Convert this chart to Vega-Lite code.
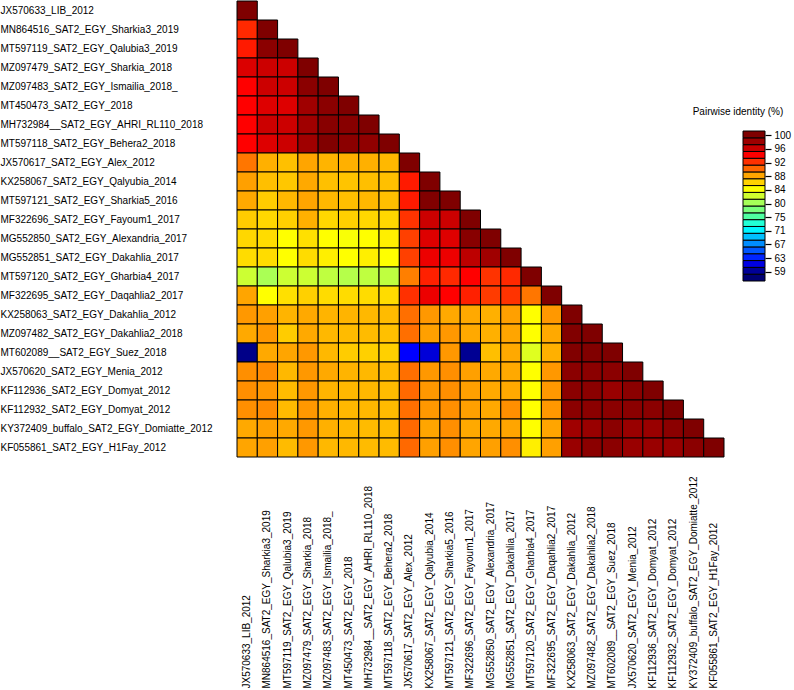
{
  "$schema": "https://vega.github.io/schema/vega-lite/v6.json",
  "background": "white",
  "padding": {"left": 0, "top": 0, "right": 2, "bottom": 0},
  "config": {
    "view": {"stroke": null},
    "font": "Liberation Sans",
    "axis": {"labelFont": "Liberation Sans", "labelColor": "#000", "labelFontSize": 10, "grid": false}
  },
  "datasets": {
    "seqs": [
      {"k": 1, "name": "JX570633_LIB_2012"},
      {"k": 2, "name": "MN864516_SAT2_EGY_Sharkia3_2019"},
      {"k": 3, "name": "MT597119_SAT2_EGY_Qalubia3_2019"},
      {"k": 4, "name": "MZ097479_SAT2_EGY_Sharkia_2018"},
      {"k": 5, "name": "MZ097483_SAT2_EGY_Ismailia_2018_"},
      {"k": 6, "name": "MT450473_SAT2_EGY_2018"},
      {"k": 7, "name": "MH732984__SAT2_EGY_AHRI_RL110_2018"},
      {"k": 8, "name": "MT597118_SAT2_EGY_Behera2_2018"},
      {"k": 9, "name": "JX570617_SAT2_EGY_Alex_2012"},
      {"k": 10, "name": "KX258067_SAT2_EGY_Qalyubia_2014"},
      {"k": 11, "name": "MT597121_SAT2_EGY_Sharkia5_2016"},
      {"k": 12, "name": "MF322696_SAT2_EGY_Fayoum1_2017"},
      {"k": 13, "name": "MG552850_SAT2_EGY_Alexandria_2017"},
      {"k": 14, "name": "MG552851_SAT2_EGY_Dakahlia_2017"},
      {"k": 15, "name": "MT597120_SAT2_EGY_Gharbia4_2017"},
      {"k": 16, "name": "MF322695_SAT2_EGY_Daqahlia2_2017"},
      {"k": 17, "name": "KX258063_SAT2_EGY_Dakahlia_2012"},
      {"k": 18, "name": "MZ097482_SAT2_EGY_Dakahlia2_2018"},
      {"k": 19, "name": "MT602089__SAT2_EGY_Suez_2018"},
      {"k": 20, "name": "JX570620_SAT2_EGY_Menia_2012"},
      {"k": 21, "name": "KF112936_SAT2_EGY_Domyat_2012"},
      {"k": 22, "name": "KF112932_SAT2_EGY_Domyat_2012"},
      {"k": 23, "name": "KY372409_buffalo_SAT2_EGY_Domiatte_2012"},
      {"k": 24, "name": "KF055861_SAT2_EGY_H1Fay_2012"}
    ],
    "identity": [
      {"i": 1, "j": 1, "pid": 100},
      {"i": 2, "j": 1, "pid": 92.4}, {"i": 2, "j": 2, "pid": 100},
      {"i": 3, "j": 1, "pid": 93}, {"i": 3, "j": 2, "pid": 99.3}, {"i": 3, "j": 3, "pid": 100},
      {"i": 4, "j": 1, "pid": 95.4}, {"i": 4, "j": 2, "pid": 96}, {"i": 4, "j": 3, "pid": 96}, {"i": 4, "j": 4, "pid": 100},
      {"i": 5, "j": 1, "pid": 94}, {"i": 5, "j": 2, "pid": 96}, {"i": 5, "j": 3, "pid": 96}, {"i": 5, "j": 4, "pid": 99.3}, {"i": 5, "j": 5, "pid": 100},
      {"i": 6, "j": 1, "pid": 94}, {"i": 6, "j": 2, "pid": 95.3}, {"i": 6, "j": 3, "pid": 95.3}, {"i": 6, "j": 4, "pid": 98}, {"i": 6, "j": 5, "pid": 99.3}, {"i": 6, "j": 6, "pid": 100},
      {"i": 7, "j": 1, "pid": 94}, {"i": 7, "j": 2, "pid": 96}, {"i": 7, "j": 3, "pid": 96}, {"i": 7, "j": 4, "pid": 98}, {"i": 7, "j": 5, "pid": 99.45}, {"i": 7, "j": 6, "pid": 99.45}, {"i": 7, "j": 7, "pid": 100},
      {"i": 8, "j": 1, "pid": 94}, {"i": 8, "j": 2, "pid": 95.3}, {"i": 8, "j": 3, "pid": 96}, {"i": 8, "j": 4, "pid": 98}, {"i": 8, "j": 5, "pid": 99.9}, {"i": 8, "j": 6, "pid": 99.3}, {"i": 8, "j": 7, "pid": 99}, {"i": 8, "j": 8, "pid": 100},
      {"i": 9, "j": 1, "pid": 89.5}, {"i": 9, "j": 2, "pid": 87.5}, {"i": 9, "j": 3, "pid": 86.75}, {"i": 9, "j": 4, "pid": 88}, {"i": 9, "j": 5, "pid": 87.3}, {"i": 9, "j": 6, "pid": 87.5}, {"i": 9, "j": 7, "pid": 87.5}, {"i": 9, "j": 8, "pid": 87.1}, {"i": 9, "j": 9, "pid": 100},
      {"i": 10, "j": 1, "pid": 88.15}, {"i": 10, "j": 2, "pid": 86.8}, {"i": 10, "j": 3, "pid": 86.4}, {"i": 10, "j": 4, "pid": 87.8}, {"i": 10, "j": 5, "pid": 86.75}, {"i": 10, "j": 6, "pid": 86.55}, {"i": 10, "j": 7, "pid": 86.8}, {"i": 10, "j": 8, "pid": 86.75}, {"i": 10, "j": 9, "pid": 93}, {"i": 10, "j": 10, "pid": 100},
      {"i": 11, "j": 1, "pid": 87.8}, {"i": 11, "j": 2, "pid": 86.2}, {"i": 11, "j": 3, "pid": 87.1}, {"i": 11, "j": 4, "pid": 88}, {"i": 11, "j": 5, "pid": 87.1}, {"i": 11, "j": 6, "pid": 86.8}, {"i": 11, "j": 7, "pid": 87.1}, {"i": 11, "j": 8, "pid": 86.8}, {"i": 11, "j": 9, "pid": 93}, {"i": 11, "j": 10, "pid": 99.9}, {"i": 11, "j": 11, "pid": 100},
      {"i": 12, "j": 1, "pid": 86.2}, {"i": 12, "j": 2, "pid": 85.7}, {"i": 12, "j": 3, "pid": 86}, {"i": 12, "j": 4, "pid": 87.5}, {"i": 12, "j": 5, "pid": 85.7}, {"i": 12, "j": 6, "pid": 86}, {"i": 12, "j": 7, "pid": 85.7}, {"i": 12, "j": 8, "pid": 85.7}, {"i": 12, "j": 9, "pid": 92}, {"i": 12, "j": 10, "pid": 96}, {"i": 12, "j": 11, "pid": 96}, {"i": 12, "j": 12, "pid": 100},
      {"i": 13, "j": 1, "pid": 85.7}, {"i": 13, "j": 2, "pid": 85.5}, {"i": 13, "j": 3, "pid": 84}, {"i": 13, "j": 4, "pid": 85.3}, {"i": 13, "j": 5, "pid": 84}, {"i": 13, "j": 6, "pid": 83.7}, {"i": 13, "j": 7, "pid": 84}, {"i": 13, "j": 8, "pid": 84.7}, {"i": 13, "j": 9, "pid": 91.5}, {"i": 13, "j": 10, "pid": 95.3}, {"i": 13, "j": 11, "pid": 95.3}, {"i": 13, "j": 12, "pid": 99.45}, {"i": 13, "j": 13, "pid": 100},
      {"i": 14, "j": 1, "pid": 85.5}, {"i": 14, "j": 2, "pid": 85.5}, {"i": 14, "j": 3, "pid": 84}, {"i": 14, "j": 4, "pid": 85.5}, {"i": 14, "j": 5, "pid": 84.7}, {"i": 14, "j": 6, "pid": 84}, {"i": 14, "j": 7, "pid": 84.7}, {"i": 14, "j": 8, "pid": 84}, {"i": 14, "j": 9, "pid": 91.5}, {"i": 14, "j": 10, "pid": 94.7}, {"i": 14, "j": 11, "pid": 94.7}, {"i": 14, "j": 12, "pid": 96.7}, {"i": 14, "j": 13, "pid": 98}, {"i": 14, "j": 14, "pid": 100},
      {"i": 15, "j": 1, "pid": 81.6}, {"i": 15, "j": 2, "pid": 80}, {"i": 15, "j": 3, "pid": 81.6}, {"i": 15, "j": 4, "pid": 81.6}, {"i": 15, "j": 5, "pid": 81}, {"i": 15, "j": 6, "pid": 80.5}, {"i": 15, "j": 7, "pid": 81}, {"i": 15, "j": 8, "pid": 81}, {"i": 15, "j": 9, "pid": 89.2}, {"i": 15, "j": 10, "pid": 92.75}, {"i": 15, "j": 11, "pid": 92.4}, {"i": 15, "j": 12, "pid": 94}, {"i": 15, "j": 13, "pid": 92}, {"i": 15, "j": 14, "pid": 92.4}, {"i": 15, "j": 15, "pid": 100},
      {"i": 16, "j": 1, "pid": 88}, {"i": 16, "j": 2, "pid": 84}, {"i": 16, "j": 3, "pid": 85.3}, {"i": 16, "j": 4, "pid": 86}, {"i": 16, "j": 5, "pid": 85.5}, {"i": 16, "j": 6, "pid": 85.5}, {"i": 16, "j": 7, "pid": 85.5}, {"i": 16, "j": 8, "pid": 85.5}, {"i": 16, "j": 9, "pid": 92.1}, {"i": 16, "j": 10, "pid": 94.7}, {"i": 16, "j": 11, "pid": 94}, {"i": 16, "j": 12, "pid": 92.75}, {"i": 16, "j": 13, "pid": 91.7}, {"i": 16, "j": 14, "pid": 92}, {"i": 16, "j": 15, "pid": 89.5}, {"i": 16, "j": 16, "pid": 100},
      {"i": 17, "j": 1, "pid": 88.4}, {"i": 17, "j": 2, "pid": 88.15}, {"i": 17, "j": 3, "pid": 87.3}, {"i": 17, "j": 4, "pid": 87.8}, {"i": 17, "j": 5, "pid": 87.3}, {"i": 17, "j": 6, "pid": 87.3}, {"i": 17, "j": 7, "pid": 87.1}, {"i": 17, "j": 8, "pid": 87}, {"i": 17, "j": 9, "pid": 89.7}, {"i": 17, "j": 10, "pid": 88.4}, {"i": 17, "j": 11, "pid": 87.8}, {"i": 17, "j": 12, "pid": 87.8}, {"i": 17, "j": 13, "pid": 87.5}, {"i": 17, "j": 14, "pid": 88.15}, {"i": 17, "j": 15, "pid": 84}, {"i": 17, "j": 16, "pid": 88.4}, {"i": 17, "j": 17, "pid": 100},
      {"i": 18, "j": 1, "pid": 87.8}, {"i": 18, "j": 2, "pid": 88.4}, {"i": 18, "j": 3, "pid": 86.2}, {"i": 18, "j": 4, "pid": 87.8}, {"i": 18, "j": 5, "pid": 87.1}, {"i": 18, "j": 6, "pid": 87}, {"i": 18, "j": 7, "pid": 87}, {"i": 18, "j": 8, "pid": 86.75}, {"i": 18, "j": 9, "pid": 89.7}, {"i": 18, "j": 10, "pid": 88.15}, {"i": 18, "j": 11, "pid": 88.4}, {"i": 18, "j": 12, "pid": 87.8}, {"i": 18, "j": 13, "pid": 87.5}, {"i": 18, "j": 14, "pid": 88}, {"i": 18, "j": 15, "pid": 84}, {"i": 18, "j": 16, "pid": 87.8}, {"i": 18, "j": 17, "pid": 99.9}, {"i": 18, "j": 18, "pid": 100},
      {"i": 19, "j": 1, "pid": 58.8}, {"i": 19, "j": 2, "pid": 87.8}, {"i": 19, "j": 3, "pid": 88}, {"i": 19, "j": 4, "pid": 88.4}, {"i": 19, "j": 5, "pid": 87.1}, {"i": 19, "j": 6, "pid": 86.2}, {"i": 19, "j": 7, "pid": 86}, {"i": 19, "j": 8, "pid": 86}, {"i": 19, "j": 9, "pid": 62}, {"i": 19, "j": 10, "pid": 61}, {"i": 19, "j": 11, "pid": 88.4}, {"i": 19, "j": 12, "pid": 59.2}, {"i": 19, "j": 13, "pid": 86.8}, {"i": 19, "j": 14, "pid": 87.8}, {"i": 19, "j": 15, "pid": 82.5}, {"i": 19, "j": 16, "pid": 87.5}, {"i": 19, "j": 17, "pid": 99.9}, {"i": 19, "j": 18, "pid": 99.9}, {"i": 19, "j": 19, "pid": 100},
      {"i": 20, "j": 1, "pid": 88.7}, {"i": 20, "j": 2, "pid": 88.8}, {"i": 20, "j": 3, "pid": 87.1}, {"i": 20, "j": 4, "pid": 88.4}, {"i": 20, "j": 5, "pid": 87.8}, {"i": 20, "j": 6, "pid": 87.3}, {"i": 20, "j": 7, "pid": 87.1}, {"i": 20, "j": 8, "pid": 87}, {"i": 20, "j": 9, "pid": 89.7}, {"i": 20, "j": 10, "pid": 88.4}, {"i": 20, "j": 11, "pid": 88.7}, {"i": 20, "j": 12, "pid": 88.15}, {"i": 20, "j": 13, "pid": 87.8}, {"i": 20, "j": 14, "pid": 87.8}, {"i": 20, "j": 15, "pid": 84}, {"i": 20, "j": 16, "pid": 88.4}, {"i": 20, "j": 17, "pid": 99.3}, {"i": 20, "j": 18, "pid": 99.3}, {"i": 20, "j": 19, "pid": 99.3}, {"i": 20, "j": 20, "pid": 100},
      {"i": 21, "j": 1, "pid": 88.7}, {"i": 21, "j": 2, "pid": 88.4}, {"i": 21, "j": 3, "pid": 87}, {"i": 21, "j": 4, "pid": 88.4}, {"i": 21, "j": 5, "pid": 87.3}, {"i": 21, "j": 6, "pid": 87.1}, {"i": 21, "j": 7, "pid": 87.1}, {"i": 21, "j": 8, "pid": 87}, {"i": 21, "j": 9, "pid": 89.9}, {"i": 21, "j": 10, "pid": 88.4}, {"i": 21, "j": 11, "pid": 88.7}, {"i": 21, "j": 12, "pid": 88.15}, {"i": 21, "j": 13, "pid": 87.8}, {"i": 21, "j": 14, "pid": 87.8}, {"i": 21, "j": 15, "pid": 84}, {"i": 21, "j": 16, "pid": 88.4}, {"i": 21, "j": 17, "pid": 99.3}, {"i": 21, "j": 18, "pid": 99.3}, {"i": 21, "j": 19, "pid": 98.4}, {"i": 21, "j": 20, "pid": 99.3}, {"i": 21, "j": 21, "pid": 100},
      {"i": 22, "j": 1, "pid": 88.7}, {"i": 22, "j": 2, "pid": 88.8}, {"i": 22, "j": 3, "pid": 87}, {"i": 22, "j": 4, "pid": 88.4}, {"i": 22, "j": 5, "pid": 87.5}, {"i": 22, "j": 6, "pid": 87.1}, {"i": 22, "j": 7, "pid": 87.1}, {"i": 22, "j": 8, "pid": 87}, {"i": 22, "j": 9, "pid": 89.7}, {"i": 22, "j": 10, "pid": 88.4}, {"i": 22, "j": 11, "pid": 88.7}, {"i": 22, "j": 12, "pid": 88.15}, {"i": 22, "j": 13, "pid": 87.8}, {"i": 22, "j": 14, "pid": 88.7}, {"i": 22, "j": 15, "pid": 84}, {"i": 22, "j": 16, "pid": 88.4}, {"i": 22, "j": 17, "pid": 99.3}, {"i": 22, "j": 18, "pid": 99.3}, {"i": 22, "j": 19, "pid": 99.3}, {"i": 22, "j": 20, "pid": 99.3}, {"i": 22, "j": 21, "pid": 99.3}, {"i": 22, "j": 22, "pid": 100},
      {"i": 23, "j": 1, "pid": 87.8}, {"i": 23, "j": 2, "pid": 88.15}, {"i": 23, "j": 3, "pid": 87.8}, {"i": 23, "j": 4, "pid": 88.4}, {"i": 23, "j": 5, "pid": 87.5}, {"i": 23, "j": 6, "pid": 87.1}, {"i": 23, "j": 7, "pid": 87}, {"i": 23, "j": 8, "pid": 87}, {"i": 23, "j": 9, "pid": 89.9}, {"i": 23, "j": 10, "pid": 88}, {"i": 23, "j": 11, "pid": 88.7}, {"i": 23, "j": 12, "pid": 87.8}, {"i": 23, "j": 13, "pid": 87.8}, {"i": 23, "j": 14, "pid": 88}, {"i": 23, "j": 15, "pid": 84}, {"i": 23, "j": 16, "pid": 88}, {"i": 23, "j": 17, "pid": 98}, {"i": 23, "j": 18, "pid": 98.4}, {"i": 23, "j": 19, "pid": 99.3}, {"i": 23, "j": 20, "pid": 98.4}, {"i": 23, "j": 21, "pid": 98.4}, {"i": 23, "j": 22, "pid": 99.3}, {"i": 23, "j": 23, "pid": 100},
      {"i": 24, "j": 1, "pid": 88}, {"i": 24, "j": 2, "pid": 88.15}, {"i": 24, "j": 3, "pid": 87}, {"i": 24, "j": 4, "pid": 88.4}, {"i": 24, "j": 5, "pid": 87.1}, {"i": 24, "j": 6, "pid": 87.1}, {"i": 24, "j": 7, "pid": 87}, {"i": 24, "j": 8, "pid": 87}, {"i": 24, "j": 9, "pid": 89.9}, {"i": 24, "j": 10, "pid": 88.15}, {"i": 24, "j": 11, "pid": 88.7}, {"i": 24, "j": 12, "pid": 88}, {"i": 24, "j": 13, "pid": 88.15}, {"i": 24, "j": 14, "pid": 88.7}, {"i": 24, "j": 15, "pid": 84.7}, {"i": 24, "j": 16, "pid": 88.15}, {"i": 24, "j": 17, "pid": 98.4}, {"i": 24, "j": 18, "pid": 99.3}, {"i": 24, "j": 19, "pid": 99.3}, {"i": 24, "j": 20, "pid": 98.4}, {"i": 24, "j": 21, "pid": 98.4}, {"i": 24, "j": 22, "pid": 98.4}, {"i": 24, "j": 23, "pid": 99.3}, {"i": 24, "j": 24, "pid": 100}
    ],
    "keyBins": [
      {"lo": 56.2, "hi": 58.25, "mid": 57.2},
      {"lo": 58.25, "hi": 60.3, "mid": 59.3},
      {"lo": 60.3, "hi": 62.35, "mid": 61.3},
      {"lo": 62.35, "hi": 64.4, "mid": 63.4},
      {"lo": 64.4, "hi": 66.45, "mid": 65.4},
      {"lo": 66.45, "hi": 68.5, "mid": 67.5},
      {"lo": 68.5, "hi": 70.55, "mid": 69.5},
      {"lo": 70.55, "hi": 72.6, "mid": 71.6},
      {"lo": 72.6, "hi": 74.65, "mid": 73.6},
      {"lo": 74.65, "hi": 76.7, "mid": 75.7},
      {"lo": 76.7, "hi": 78.75, "mid": 77.7},
      {"lo": 78.75, "hi": 80.8, "mid": 79.8},
      {"lo": 80.8, "hi": 82.85, "mid": 81.8},
      {"lo": 82.85, "hi": 84.9, "mid": 83.9},
      {"lo": 84.9, "hi": 86.95, "mid": 85.9},
      {"lo": 86.95, "hi": 89.0, "mid": 88.0},
      {"lo": 89.0, "hi": 91.05, "mid": 90.0},
      {"lo": 91.05, "hi": 93.1, "mid": 92.1},
      {"lo": 93.1, "hi": 95.15, "mid": 94.1},
      {"lo": 95.15, "hi": 97.2, "mid": 96.2},
      {"lo": 97.2, "hi": 99.25, "mid": 98.2},
      {"lo": 99.25, "hi": 101.3, "mid": 100.3}
    ],
    "keyTitle": [
      {"pos": 107, "label": "Pairwise identity (%)"}
    ]
  },
  "resolve": {"scale": {"color": "shared"}},
  "bounds": "flush",
  "spacing": 19,
  "hconcat": [
    {
      "width": 487,
      "height": 456,
      "data": {"name": "identity"},
      "transform": [
        {"lookup": "i", "from": {"data": {"name": "seqs"}, "key": "k", "fields": ["name"]}, "as": ["rowName"]},
        {"lookup": "j", "from": {"data": {"name": "seqs"}, "key": "k", "fields": ["name"]}, "as": ["colName"]}
      ],
      "mark": {"type": "rect", "stroke": "#000", "strokeWidth": 1},
      "encoding": {
        "x": {
          "field": "colName", "type": "nominal",
          "sort": {"field": "j", "op": "min"},
          "scale": {"paddingInner": 0, "paddingOuter": 0},
          "axis": {
            "title": null, "orient": "bottom", "labelAngle": 270, "labelAlign": "left", "labelBaseline": "middle",
            "labelPadding": 231, "ticks": false, "tickSize": 0, "domain": false, "labelLimit": 400, "labelOverlap": false
          }
        },
        "y": {
          "field": "rowName", "type": "nominal",
          "sort": {"field": "i", "op": "min"},
          "scale": {"paddingInner": 0, "paddingOuter": 0},
          "axis": {
            "title": null, "labelAlign": "left", "labelBaseline": "middle", "labelPadding": 237,
            "ticks": false, "tickSize": 0, "domain": false, "labelLimit": 400, "labelOverlap": false
          }
        },
        "color": {
          "field": "pid", "type": "quantitative", "legend": null,
          "scale": {
            "type": "linear", "clamp": true, "interpolate": "rgb",
            "domain": [57, 59, 62, 67, 72, 76, 80, 84, 86, 88, 90, 92, 94, 96, 98, 100],
            "range": ["#000070", "#00008b", "#0000ff", "#0080ff", "#00ffff", "#55ff99", "#aaff55", "#ffff00", "#ffd000", "#ffa500", "#ff6600", "#ff3300", "#ff0000", "#cc0000", "#a00000", "#7f0000"]
          }
        }
      }
    },
    {
      "width": 22,
      "height": 280,
      "encoding": {
        "y": {
          "type": "quantitative",
          "scale": {"domain": [56.2, 140.4], "nice": false, "zero": false},
          "axis": {
            "title": null, "orient": "right", "domain": false, "grid": false,
            "values": [59, 63.1, 67.2, 71.3, 75.4, 79.5, 83.6, 87.7, 91.8, 95.9, 100],
            "labelExpr": "format(round(datum.value), 'd')",
            "ticks": true, "tickSize": 6, "tickColor": "#000", "tickWidth": 1.2, "labelPadding": 3,
            "labelFontSize": 10, "labelFlush": false, "labelOverlap": false
          }
        }
      },
      "layer": [
        {
          "data": {"name": "keyBins"},
          "mark": {"type": "rect", "stroke": "#000", "strokeWidth": 1},
          "encoding": {
            "y": {"field": "lo", "type": "quantitative"},
            "y2": {"field": "hi"},
            "color": {
              "field": "mid", "type": "quantitative", "legend": null,
              "scale": {
                "type": "linear", "clamp": true, "interpolate": "rgb",
                "domain": [57, 59, 62, 67, 72, 76, 80, 84, 86, 88, 90, 92, 94, 96, 98, 100],
                "range": ["#000070", "#00008b", "#0000ff", "#0080ff", "#00ffff", "#55ff99", "#aaff55", "#ffff00", "#ffd000", "#ffa500", "#ff6600", "#ff3300", "#ff0000", "#cc0000", "#a00000", "#7f0000"]
              }
            }
          }
        },
        {
          "data": {"name": "keyTitle"},
          "mark": {"type": "text", "fontSize": 10, "align": "center", "baseline": "middle", "dx": -16, "color": "#000"},
          "encoding": {
            "y": {"field": "pos", "type": "quantitative"},
            "text": {"field": "label"}
          }
        }
      ]
    }
  ]
}
